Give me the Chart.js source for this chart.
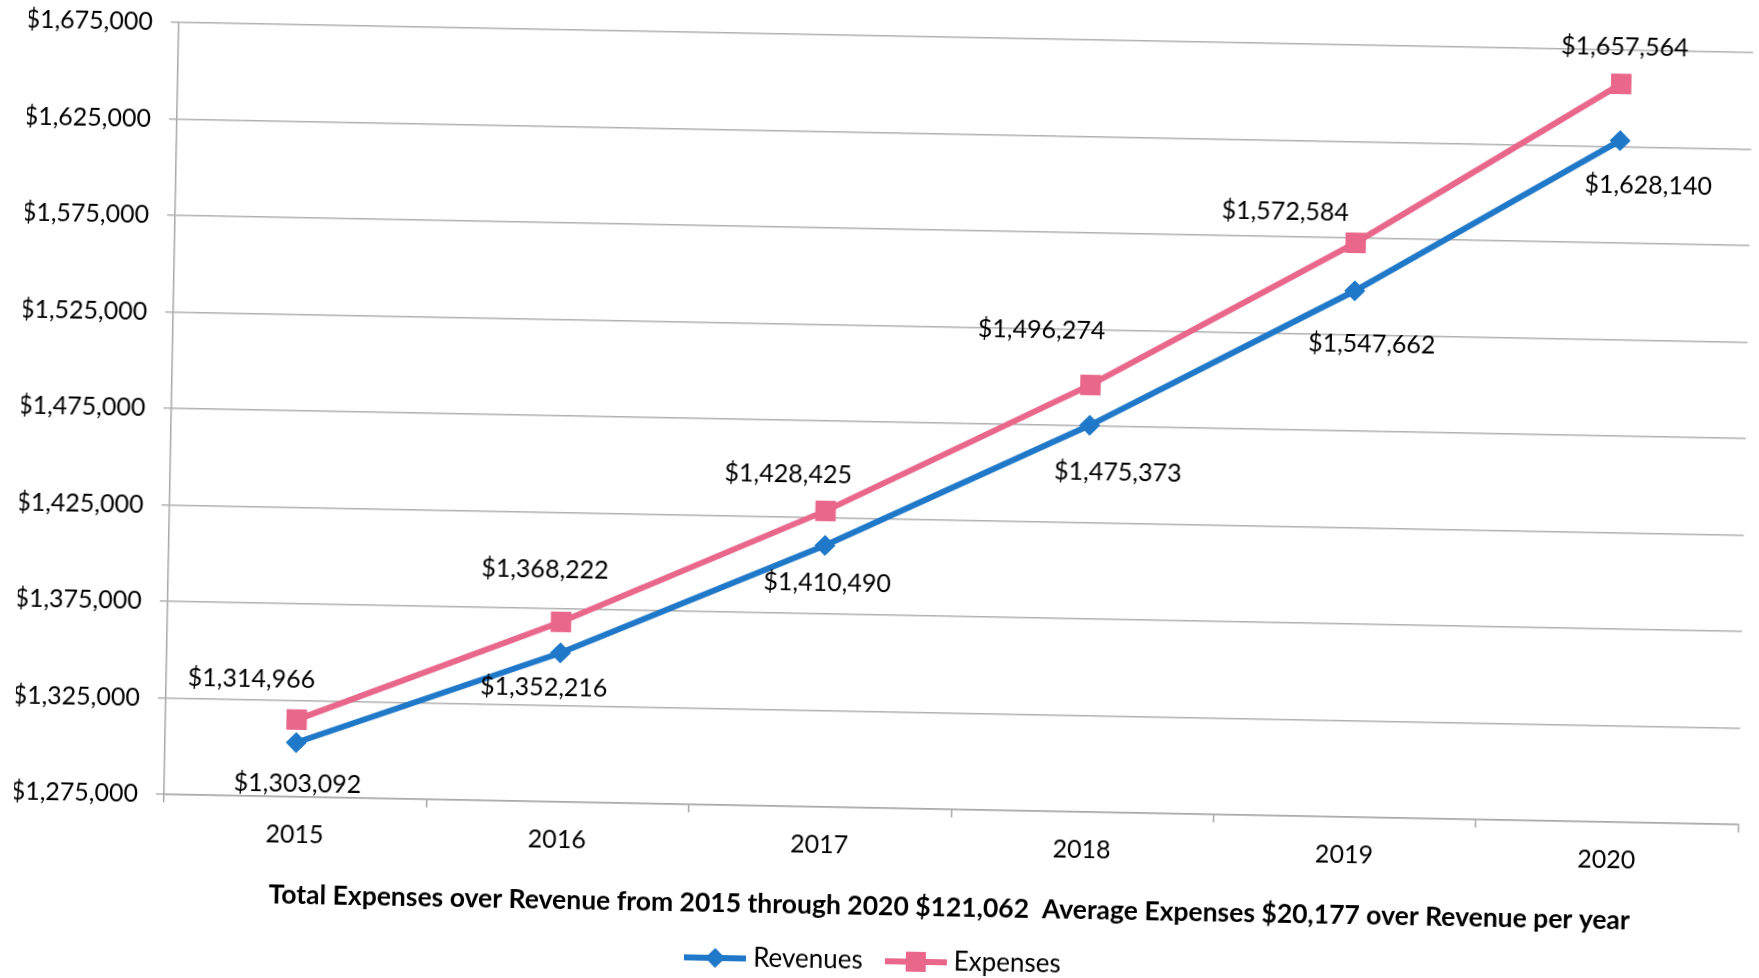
<!DOCTYPE html>
<html>
<head>
    <title>Revenues and Expenses 2015 - 2020</title>
    <script src="https://cdn.jsdelivr.net/npm/chart.js"></script>
    <style>
        html, body { margin: 0; padding: 0; background: #fff; overflow: hidden; }
        .chart-container {
            width: 1759px;
            height: 978px;
            transform: rotate(1.1deg);
            transform-origin: 50% 50%;
        }
    </style>
</head>
<body>
    <div class="chart-container">
        <canvas id="financeChart"></canvas>
    </div>

    <script>
        // Yearly figures
        const years = ['2015', '2016', '2017', '2018', '2019', '2020'];
        const revenues = [1303092, 1352216, 1410490, 1475373, 1547662, 1628140];
        const expenses = [1314966, 1368222, 1428425, 1496274, 1572584, 1657564];

        // Value axis range
        const yMin = 1275000;
        const yMax = 1675000;
        const yStep = 50000;

        const blue = '#1f78c8';
        const pink = '#e8678a';
        const font = 'Lato';

        function money(v) {
            return '$' + Math.round(v).toLocaleString('en-US');
        }

        // Summary line under the years
        const gap = expenses.map((e, i) => e - revenues[i]);
        const totalGap = gap.reduce((a, b) => a + b, 0);
        const avgGap = totalGap / gap.length;
        const summary = 'Total Expenses over Revenue from ' + years[0] + ' through ' + years[years.length - 1] +
            ' ' + money(totalGap) + '  Average Expenses ' + money(avgGap) + ' over Revenue per year';

        // Little line-with-marker pictures for the legend
        function legendIcon(color, shape) {
            const c = document.createElement('canvas');
            c.width = 62;
            c.height = 24;
            const g = c.getContext('2d');
            g.strokeStyle = color;
            g.lineWidth = 6;
            g.beginPath();
            g.moveTo(0, 12);
            g.lineTo(62, 12);
            g.stroke();
            g.fillStyle = color;
            if (shape === 'diamond') {
                g.beginPath();
                g.moveTo(31, 2);
                g.lineTo(41, 12);
                g.lineTo(31, 22);
                g.lineTo(21, 12);
                g.closePath();
                g.fill();
            } else {
                g.fillRect(21, 2, 20, 20);
            }
            return c;
        }
        const icons = [legendIcon(blue, 'diamond'), legendIcon(pink, 'square')];

        // Value labels next to each point, nudged per point to keep clear of the lines
        const pointLabels = {
            id: 'pointLabels',
            afterDatasetsDraw(chart, args, opts) {
                const ctx = chart.ctx;
                ctx.save();
                ctx.font = '25px ' + font;
                ctx.fillStyle = '#000';
                ctx.textAlign = 'center';
                ctx.textBaseline = 'middle';
                chart.data.datasets.forEach((ds, i) => {
                    const meta = chart.getDatasetMeta(i);
                    meta.data.forEach((pt, j) => {
                        const [dx, dy] = opts.nudges[i][j];
                        ctx.fillText(money(ds.data[j]), pt.x + dx, pt.y + dy);
                    });
                });
                ctx.restore();
            }
        };

        const ctx = document.getElementById('financeChart').getContext('2d');
        new Chart(ctx, {
            type: 'line',
            data: {
                labels: years,
                datasets: [{
                    label: 'Revenues',
                    data: revenues,
                    borderColor: blue,
                    backgroundColor: blue,
                    borderWidth: 6,
                    pointStyle: 'rectRot',
                    pointRadius: 10.5,
                    pointBorderWidth: 0
                }, {
                    label: 'Expenses',
                    data: expenses,
                    borderColor: pink,
                    backgroundColor: pink,
                    borderWidth: 6,
                    pointStyle: 'rect',
                    pointRadius: 14.5,
                    pointBorderWidth: 0
                }]
            },
            options: {
                responsive: true,
                maintainAspectRatio: false,
                animation: false,
                layout: { padding: { left: 20, right: 10, top: 36, bottom: -6 } },
                scales: {
                    x: {
                        offset: true,
                        grid: { offset: true, drawOnChartArea: false, tickLength: 8, color: '#a8a8a8', lineWidth: 1.5 },
                        border: { color: '#a8a8a8', width: 1.5 },
                        ticks: { color: '#000', font: { family: font, size: 25 }, padding: 15 },
                        title: {
                            display: true,
                            text: summary,
                            color: '#000',
                            font: { family: font, size: 26.5, weight: 'bold' },
                            padding: { top: 0, bottom: -2 }
                        },
                        afterFit: s => { s.height = 112; }
                    },
                    y: {
                        min: yMin,
                        max: yMax,
                        grid: { color: '#b0b0b0', lineWidth: 1.5, tickLength: 8 },
                        border: { color: '#a8a8a8', width: 1.5 },
                        ticks: {
                            stepSize: yStep,
                            color: '#000',
                            font: { family: font, size: 25 },
                            padding: 18,
                            callback: v => money(v)
                        },
                        afterFit: s => { s.width = 150; }
                    }
                },
                plugins: {
                    legend: {
                        position: 'bottom',
                        labels: {
                            usePointStyle: true,
                            pointStyleWidth: 50,
                            padding: 28,
                            color: '#000',
                            font: { family: font, size: 26 },
                            generateLabels(chart) {
                                const items = Chart.defaults.plugins.legend.labels.generateLabels(chart);
                                items.forEach((it, i) => { it.pointStyle = icons[i]; });
                                return items;
                            }
                        }
                    },
                    tooltip: { enabled: false },
                    pointLabels: {
                        nudges: [
                            [[2, 41], [-16, 35], [3, 37], [29, 47], [18, 53], [29, 44]],
                            [[-46, -40], [-17, -52], [-38, -36], [-50, -54], [-71, -30], [3, -37]]
                        ]
                    }
                }
            },
            plugins: [pointLabels]
        });
    </script>
</body>
</html>
